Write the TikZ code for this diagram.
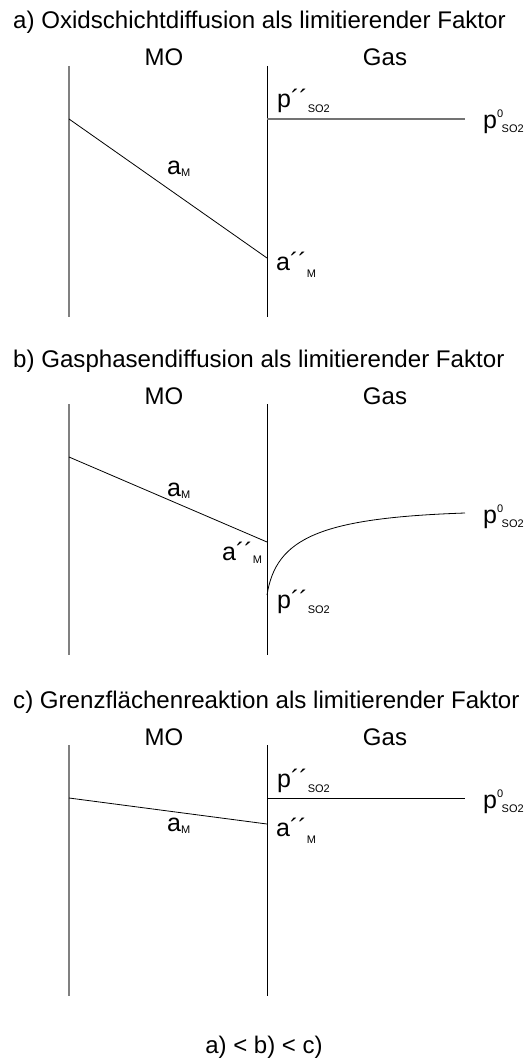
\documentclass[tikz,border=0pt]{standalone}
\usepackage{fontspec}
\setmainfont{Liberation Sans}
\newcommand\sbx[2][5pt]{\raisebox{-#1}{\fontsize{11}{11}\selectfont #2}}
\newcommand\spx[1]{\raisebox{11pt}{\fontsize{11}{11}\selectfont #1}}
\tikzset{
  ttl/.style={anchor=base west, inner sep=0pt, font=\fontsize{24.1}{28}\selectfont},
  hd/.style={anchor=base, inner sep=0pt, font=\fontsize{24}{28}\selectfont},
  lab/.style={anchor=base west, inner sep=0pt, font=\fontsize{25}{28}\selectfont},
  lwall/.style={draw=black!50, line width=1.4pt},
  rwall/.style={draw=black, line width=0.8pt},
  prof/.style={draw=black, line width=0.8pt},
  gline/.style={draw=black!55, line width=1.2pt},
  kline/.style={draw=black, line width=0.8pt}
}
\begin{document}
\begin{tikzpicture}[x=1pt,y=-1pt]
\useasboundingbox (0,0) rectangle (528,1064);
% ---------------- panel a
\node[ttl] (ta) at (13,29) {a) Oxidschichtdiffusion als limitierender Faktor};
\node[hd] (moa) at (164,66) {MO};
\node[hd] (gasa) at (385,66) {Gas};
\coordinate (la1) at (69,66); \coordinate (la2) at (69,317);
\coordinate (ra1) at (267,66); \coordinate (ra2) at (267,317);
\draw[lwall] (la1) -- (la2);
\draw[rwall] (ra1) -- (ra2);
\coordinate (sa1) at (69,119); \coordinate (sa2) at (267,258);
\draw[prof] (sa1) -- (sa2);
\coordinate (ha1) at (267,119); \coordinate (ha2) at (465,119);
\draw[gline] (ha1) -- (ha2);
\node[lab] (ppa) at (277,108) {p´´\sbx{SO2}};
\node[lab] (p0a) at (483,129) {p\spx{0}\hspace{-1.5pt}\sbx[4pt]{SO2}};
\node[lab] (ama) at (167,175) {a\sbx[2pt]{M}};
\node[lab] (aia) at (276,271) {a´´\sbx[7pt]{M}};
% ---------------- panel b
\begin{scope}[shift={(0,338)}]
\node[ttl] (tb) at (13,29) {b) Gasphasendiffusion als limitierender Faktor};
\node[hd] (mob) at (164,66) {MO};
\node[hd] (gasb) at (385,66) {Gas};
\coordinate (lb1) at (69,66); \coordinate (lb2) at (69,317);
\coordinate (rb1) at (267,66); \coordinate (rb2) at (267,317);
\draw[lwall] (lb1) -- (lb2);
\draw[rwall] (rb1) -- (rb2);
\coordinate (sb1) at (69,119); \coordinate (sb2) at (267,204);
\draw[prof] (sb1) -- (sb2);
\coordinate (cb1) at (267,257); \coordinate (cb2) at (465,175);
\draw[prof] (cb1) .. controls (276,200) and (320,180) .. (cb2);
\node[lab] (ppb) at (277,270) {p´´\sbx{SO2}};
\node[lab] (p0b) at (483,185) {p\spx{0}\hspace{-1.5pt}\sbx[4pt]{SO2}};
\node[lab] (amb) at (167,158) {a\sbx[2pt]{M}};
\node[lab] (aib) at (222,222) {a´´\sbx[3pt]{M}};
\end{scope}
% ---------------- panel c
\begin{scope}[shift={(0,679)}]
\node[ttl] (tc) at (13,29) {c) Grenzflächenreaktion als limitierender Faktor};
\node[hd] (moc) at (164,66) {MO};
\node[hd] (gasc) at (385,66) {Gas};
\coordinate (lc1) at (69,66); \coordinate (lc2) at (69,317);
\coordinate (rc1) at (267,66); \coordinate (rc2) at (267,317);
\draw[lwall] (lc1) -- (lc2);
\draw[rwall] (rc1) -- (rc2);
\coordinate (sc1) at (69,119); \coordinate (sc2) at (267,145);
\draw[prof] (sc1) -- (sc2);
\coordinate (hc1) at (267,119); \coordinate (hc2) at (465,119);
\draw[kline] (hc1) -- (hc2);
\node[lab] (ppc) at (277,108) {p´´\sbx{SO2}};
\node[lab] (p0c) at (483,129) {p\spx{0}\hspace{-1.5pt}\sbx[4pt]{SO2}};
\node[lab] (amc) at (167,152) {a\sbx[2pt]{M}};
\node[lab] (aic) at (276,157) {a´´\sbx[7pt]{M}};
\end{scope}
% ---------------- bottom
\node[hd] (cmp) at (264,1053) {a) < b) < c)};
\end{tikzpicture}
\end{document}
